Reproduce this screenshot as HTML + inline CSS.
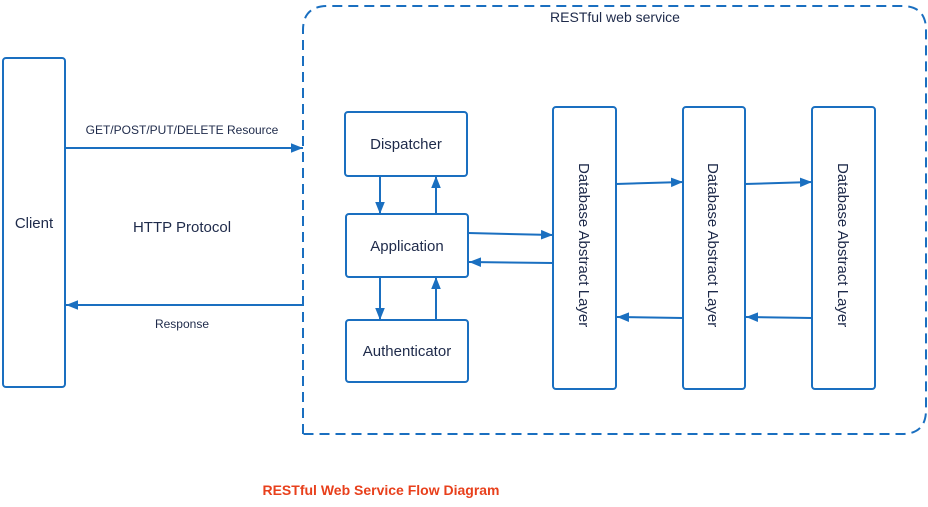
<!DOCTYPE html>
<html><head><style>
html,body{margin:0;padding:0;background:#fff;}
svg{display:block;}
text{font-family:"Liberation Sans",sans-serif;fill:#1e2a4a;}
</style></head><body>
<svg width="928" height="507" viewBox="0 0 928 507" xmlns="http://www.w3.org/2000/svg">
<defs>
<marker id="a" viewBox="0 0 10 10" refX="10" refY="5" markerWidth="12" markerHeight="12" orient="auto" markerUnits="userSpaceOnUse">
<path d="M0,1 L10,5 L0,9 z" fill="#1a6fc0"/>
</marker>
</defs>
<style>.b{fill:#fff;stroke:#1a6fc0;stroke-width:2;} .l{stroke:#1a6fc0;stroke-width:2;fill:none;}</style>
<path d="M303,434 L303,30 Q303,6 328,6 L902,6 Q926,6 926,30 L926,410 Q926,434 902,434 Z" fill="none" stroke="#1a6fc0" stroke-width="2" stroke-dasharray="10,6"/>
<text x="615" y="22" font-size="14" text-anchor="middle">RESTful web service</text>
<rect class="b" x="3" y="58" width="62" height="329" rx="3"/>
<text x="34" y="228" font-size="15" text-anchor="middle">Client</text>
<text x="182" y="134" font-size="12" text-anchor="middle">GET/POST/PUT/DELETE Resource</text>
<text x="182" y="232" font-size="15" text-anchor="middle">HTTP Protocol</text>
<text x="182" y="328" font-size="12" text-anchor="middle">Response</text>
<line class="l" x1="65" y1="148" x2="303" y2="148" marker-end="url(#a)"/>
<line class="l" x1="303" y1="305" x2="66" y2="305" marker-end="url(#a)"/>
<rect class="b" x="345" y="112" width="122" height="64" rx="3"/>
<text x="406" y="149" font-size="15" text-anchor="middle">Dispatcher</text>
<rect class="b" x="346" y="214" width="122" height="63" rx="3"/>
<text x="407" y="251" font-size="15" text-anchor="middle">Application</text>
<rect class="b" x="346" y="320" width="122" height="62" rx="3"/>
<text x="407" y="356" font-size="15" text-anchor="middle">Authenticator</text>
<line class="l" x1="380" y1="176" x2="380" y2="214" marker-end="url(#a)"/>
<line class="l" x1="436" y1="214" x2="436" y2="176" marker-end="url(#a)"/>
<line class="l" x1="380" y1="277" x2="380" y2="320" marker-end="url(#a)"/>
<line class="l" x1="436" y1="320" x2="436" y2="277" marker-end="url(#a)"/>
<line class="l" x1="468" y1="233" x2="553" y2="235" marker-end="url(#a)"/>
<line class="l" x1="553" y1="263" x2="469" y2="262" marker-end="url(#a)"/>
<rect class="b" x="553" y="107" width="63" height="282" rx="3"/>
<rect class="b" x="683" y="107" width="62" height="282" rx="3"/>
<rect class="b" x="812" y="107" width="63" height="282" rx="3"/>
<text font-size="15" transform="translate(579,163) rotate(90)">Database Abstract Layer</text>
<text font-size="15" transform="translate(708,163) rotate(90)">Database Abstract Layer</text>
<text font-size="15" transform="translate(838,163) rotate(90)">Database Abstract Layer</text>
<line class="l" x1="616" y1="184" x2="683" y2="182" marker-end="url(#a)"/>
<line class="l" x1="745" y1="184" x2="812" y2="182" marker-end="url(#a)"/>
<line class="l" x1="683" y1="318" x2="617" y2="317" marker-end="url(#a)"/>
<line class="l" x1="812" y1="318" x2="746" y2="317" marker-end="url(#a)"/>
<text x="381" y="495" font-size="14" font-weight="bold" text-anchor="middle" style="fill:#e8401c">RESTful Web Service Flow Diagram</text>
</svg>
</body></html>
